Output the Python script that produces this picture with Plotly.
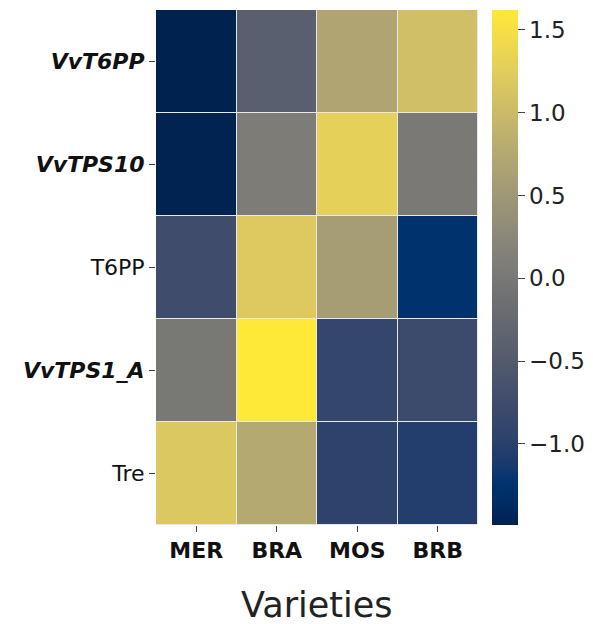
import plotly.graph_objects as go

# Expression z-scores per gene (rows) and variety (columns)
varieties = ["MER", "BRA", "MOS", "BRB"]
genes = ["VvT6PP", "VvTPS10", "T6PP", "VvTPS1_A", "Tre"]
gene_labels = ["<b><i>VvT6PP</i></b>", "<b><i>VvTPS10</i></b>", "T6PP",
               "<b><i>VvTPS1_A</i></b>", "Tre"]
values = [
    [-1.49, -0.42, 0.69, 1.06],
    [-1.47, 0.07, 1.29, 0.02],
    [-0.74, 1.20, 0.58, -1.25],
    [0.00, 1.62, -0.87, -0.79],
    [1.18, 0.75, -0.95, -1.04],
]
cbar_ticks = [-1.0, -0.5, 0.0, 0.5, 1.0, 1.5]
cbar_text = ["\u22121.0", "\u22120.5", "0.0", "0.5", "1.0", "1.5"]

# cividis-style scale with the saturated blue low end
cividis = [
    [0.000, "#00224e"],
    [0.040, "#002b63"],
    [0.080, "#00336f"],
    [0.120, "#1a3a6d"],
    [0.170, "#2d436c"],
    [0.222, "#3b496c"],
    [0.333, "#575d6d"],
    [0.444, "#707173"],
    [0.556, "#8a8779"],
    [0.667, "#a69d75"],
    [0.778, "#c4b56c"],
    [0.889, "#e4cf5b"],
    [1.000, "#fee838"],
]

tick_font = dict(family="DejaVu Sans", size=22, color="#111")

fig = go.Figure(go.Heatmap(
    z=values,
    x=varieties,
    y=gene_labels,
    colorscale=cividis,
    zmin=-1.49, zmax=1.62,
    xgap=1, ygap=1,
    colorbar=dict(
        x=1.043, xanchor="left", xpad=0,
        y=0.5, yanchor="middle", ypad=0,
        len=1.0, lenmode="fraction",
        thickness=26, outlinewidth=0,
        tickvals=cbar_ticks, ticktext=cbar_text,
        ticks="outside", ticklen=7, tickwidth=1.2, tickcolor="#444",
        tickfont=dict(family="DejaVu Sans", size=23, color="#222"),
    ),
))

fig.update_layout(
    width=593, height=624,
    margin=dict(l=156, r=115, t=10, b=99, autoexpand=False),
    paper_bgcolor="white", plot_bgcolor="#e8e8e8",
    xaxis=dict(
        ticks="outside", ticklen=6, tickwidth=1.2, tickcolor="#444",
        tickfont=tick_font,
        tickvals=varieties,
        ticktext=["<b>%s</b>" % v for v in varieties],
        showgrid=False, zeroline=False,
    ),
    yaxis=dict(
        autorange="reversed",
        ticks="outside", ticklen=6, tickwidth=1.2, tickcolor="#444",
        tickfont=tick_font,
        showgrid=False, zeroline=False,
    ),
    annotations=[dict(
        text="Varieties", xref="paper", yref="paper", x=0.5, y=-0.155,
        xanchor="center", yanchor="middle", showarrow=False,
        font=dict(family="DejaVu Sans", size=35, color="#222"),
    )],
)

fig.write_html("out.html")
